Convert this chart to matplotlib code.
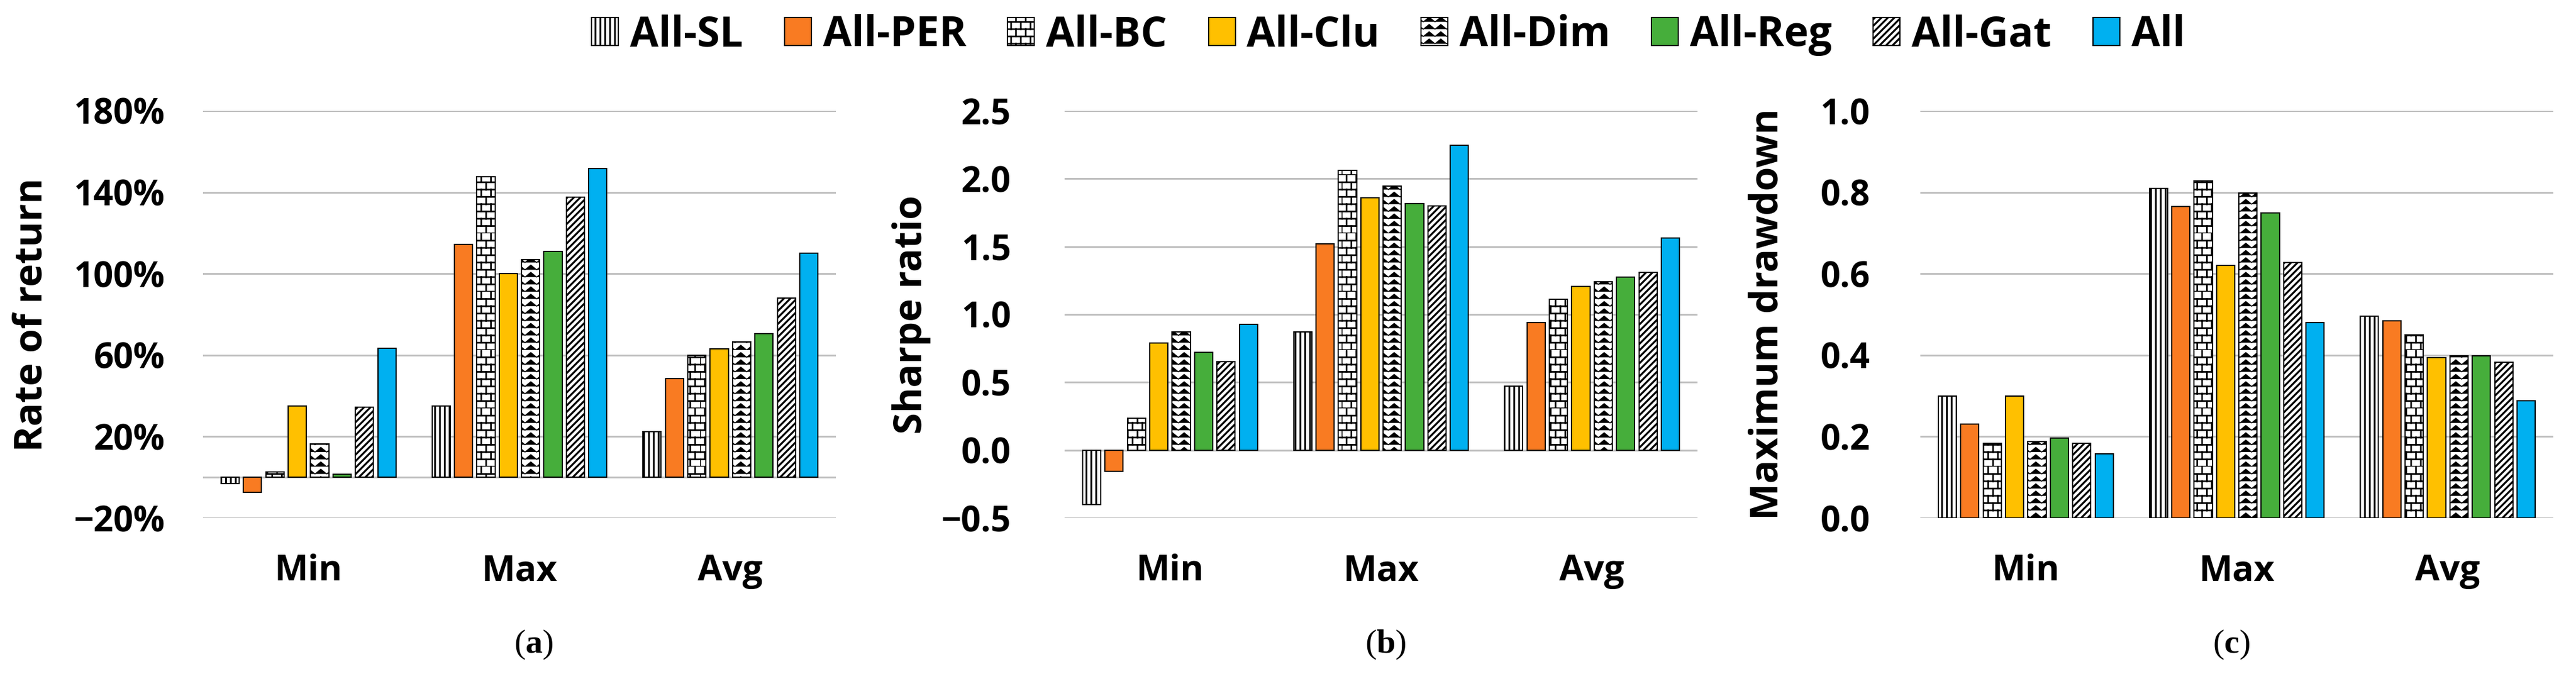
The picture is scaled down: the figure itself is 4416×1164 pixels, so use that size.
import warnings
import numpy as np
import matplotlib
matplotlib.use("Agg")
import matplotlib.pyplot as plt
import matplotlib.hatch as mhatch
from matplotlib.path import Path

warnings.filterwarnings("ignore")

# ---- data ----
series = ["All-SL", "All-PER", "All-BC", "All-Clu", "All-Dim", "All-Reg", "All-Gat", "All"]
groups = ["Min", "Max", "Avg"]

# rate of return, in %
ror_min = [-3, -7.5, 2.5, 35, 16.5, 1.5, 34.5, 63.5]
ror_max = [35, 114.5, 147.5, 100, 107, 111, 137.5, 151.5]
ror_avg = [22.5, 48.5, 60, 63, 66.5, 70.5, 88, 110]

# sharpe ratio
sr_min = [-0.40, -0.155, 0.235, 0.79, 0.87, 0.72, 0.65, 0.925]
sr_max = [0.87, 1.52, 2.06, 1.86, 1.945, 1.815, 1.80, 2.245]
sr_avg = [0.47, 0.94, 1.11, 1.205, 1.24, 1.275, 1.31, 1.565]

# maximum drawdown
md_min = [0.30, 0.23, 0.183, 0.30, 0.188, 0.196, 0.183, 0.158]
md_max = [0.81, 0.765, 0.828, 0.62, 0.798, 0.75, 0.628, 0.48]
md_avg = [0.496, 0.484, 0.45, 0.394, 0.398, 0.398, 0.382, 0.288]

ror_ticks = [-20, 20, 60, 100, 140, 180]
ror_labels = ["\u221220%", "20%", "60%", "100%", "140%", "180%"]
sr_ticks = [-0.5, 0.0, 0.5, 1.0, 1.5, 2.0, 2.5]
sr_labels = ["\u22120.5", "0.0", "0.5", "1.0", "1.5", "2.0", "2.5"]
md_ticks = [0.0, 0.2, 0.4, 0.6, 0.8, 1.0]
md_labels = ["0.0", "0.2", "0.4", "0.6", "0.8", "1.0"]


# ---- extra hatch patterns: bricks ('b') and zigzag ('z') ----
class BrickHatch(mhatch.HatchPatternBase):
    def __init__(self, hatch, density):
        self.rows = 8 * hatch.count("b")
        self.cols = 6
        self.num_vertices = self.rows * 2 + self.rows * self.cols * 2

    def set_vertices_and_codes(self, vertices, codes):
        i = 0
        for r in range(self.rows):
            y = r / self.rows
            vertices[i] = (0, y)
            vertices[i + 1] = (1, y)
            codes[i] = Path.MOVETO
            codes[i + 1] = Path.LINETO
            i += 2
            off = 0.5 / self.cols if r % 2 else 0.0
            for c in range(self.cols):
                xx = c / self.cols + off
                vertices[i] = (xx, y)
                vertices[i + 1] = (xx, y + 1 / self.rows)
                codes[i] = Path.MOVETO
                codes[i + 1] = Path.LINETO
                i += 2


class ZigzagHatch(mhatch.HatchPatternBase):
    def __init__(self, hatch, density):
        self.rows = 8 * hatch.count("z")
        self.peaks = 5
        self.num_vertices = self.rows * (2 * self.peaks + 1)

    def set_vertices_and_codes(self, vertices, codes):
        n = 2 * self.peaks + 1
        xs = np.linspace(0, 1, n)
        for r in range(self.rows):
            y0 = r / self.rows
            ys = y0 + np.where(np.arange(n) % 2, 0.65 / self.rows, 0.0)
            vertices[r * n:(r + 1) * n, 0] = xs
            vertices[r * n:(r + 1) * n, 1] = ys
            codes[r * n] = Path.MOVETO
            codes[r * n + 1:(r + 1) * n] = Path.LINETO


mhatch._hatch_types.append(BrickHatch)
mhatch._hatch_types.append(ZigzagHatch)

# ---- styles ----
colors = ["white", "#F97B22", "white", "#FFC000", "white", "#46AE3B", "white", "#00B0F0"]
hatches = ["||", None, "b", None, "z", None, "///", None]
hatch_lw = [2.2, 2.2, 2.0, 2.2, 1.1, 2.2, 2.4, 2.2]

plt.rcParams["font.family"] = ["Open Sans", "DejaVu Sans"]
plt.rcParams["font.weight"] = "bold"
plt.rcParams["hatch.linewidth"] = 2.2
plt.rcParams["hatch.color"] = "black"
plt.rcParams["mathtext.fontset"] = "custom"
plt.rcParams["mathtext.rm"] = "Liberation Serif"
plt.rcParams["mathtext.bf"] = "Liberation Serif:bold"

fig = plt.figure(figsize=(44.16, 11.64), dpi=100)

W, H = 4416, 1164
top, bottom = 190, 888
lefts = [348, 1825, 3292]
width = 1085

pitch = 1 / 9.43
bw = 0.81 * pitch
x = np.arange(len(groups))

panels = [
    ([ror_min, ror_max, ror_avg], ror_ticks, ror_labels, "Rate of return", 47, 54, "(a)", 915),
    ([sr_min, sr_max, sr_avg], sr_ticks, sr_labels, "Sharpe ratio", 66, 1563, "(b)", 2375),
    ([md_min, md_max, md_avg], md_ticks, md_labels, "Maximum drawdown", 62, 3030, "(c)", 3825),
]

handles = []
for k, (vals, ticks, tlabels, ylab, ypad, ylab_x, plabel, plabel_x) in enumerate(panels):
    ax = fig.add_axes([lefts[k] / W, 1 - bottom / H, width / W, (bottom - top) / H])
    vals = np.array(vals)  # groups x series
    bars = []
    for j in range(len(series)):
        b = ax.bar(x + (j - 3.5) * pitch, vals[:, j], bw, color=colors[j],
                   edgecolor="black", linewidth=1.5, hatch=hatches[j],
                   label=series[j], zorder=3)
        for p in b.patches:
            if hasattr(p, "set_hatch_linewidth"):
                p.set_hatch_linewidth(hatch_lw[j])
        bars.append(b)
    if k == 0:
        handles = bars
    ax.set_xlim(-0.5, 2.5)
    ax.set_ylim(ticks[0], ticks[-1])
    ax.set_yticks(ticks)
    ax.set_yticklabels(tlabels)
    ax.set_xticks(x)
    ax.set_xticklabels(groups)
    ax.grid(axis="y", color="#BFBFBF", linewidth=2.2, zorder=0)
    ax.axhline(0, color="#BFBFBF", linewidth=2.2, zorder=1)
    ax.set_axisbelow(True)
    for s in ax.spines.values():
        s.set_visible(False)
    ax.tick_params(axis="y", length=0, labelsize=43, pad=ypad)
    ax.tick_params(axis="x", length=0, labelsize=44, pad=44)
    fig.text(ylab_x / W, 1 - 539 / H, ylab, rotation=90, ha="center", va="center",
             fontsize=48, fontweight="bold")
    fig.text(plabel_x / W, 1 - 1105 / H, "(" + r"$\mathbf{" + plabel[1] + "}$" + ")",
             ha="center", va="center", fontsize=42, fontweight="normal",
             family="Liberation Serif")

leg = fig.legend(handles=handles, labels=series, loc="center", ncol=8,
                 bbox_to_anchor=(2380 / W, 1 - 60 / H), frameon=False, fontsize=51,
                 handlelength=0.65, handleheight=0.65, handletextpad=0.28,
                 columnspacing=1.0, borderaxespad=0)
for j, p in enumerate(leg.get_patches()):
    if hasattr(p, "set_hatch_linewidth"):
        p.set_hatch_linewidth(hatch_lw[j])

fig.savefig("out.png", dpi=100)
